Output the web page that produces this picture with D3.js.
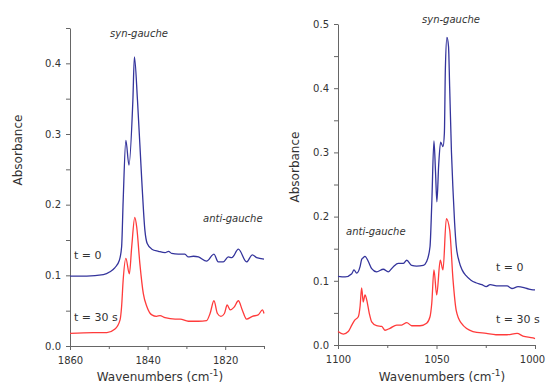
<!DOCTYPE html>
<html>
<head>
<meta charset="utf-8">
<script src="https://cdn.jsdelivr.net/npm/d3@7"></script>
<style>
  body { margin: 0; background: #fff; }
  svg { display: block; }
  .axis path, .axis line { stroke: #666; }
  .axis text { fill: #333; font-family: "DejaVu Sans", Verdana, sans-serif; font-size: 10px; }
  .title { fill: #333; font-family: "DejaVu Sans", Verdana, sans-serif; font-size: 12px; }
  .note { fill: #333; font-family: "DejaVu Sans", Verdana, sans-serif; font-size: 11px; }
  .band { fill: #333; font-family: "DejaVu Sans", Verdana, sans-serif; font-size: 10px; font-style: italic; }
</style>
</head>
<body>
<svg id="chart" width="546" height="385"></svg>
<script>
// left panel, 1860-1810 cm-1  [wavenumber, absorbance]
var leftT0 = [
  [1860,0.099],[1855.7,0.099],[1851.4,0.101],[1849.7,0.105],[1848.4,0.111],[1847.3,0.121],
  [1846.7,0.140],[1846.3,0.205],[1845.6,0.291],[1844.8,0.256],[1843.8,0.347],[1843.4,0.409],
  [1842.6,0.347],[1841.5,0.234],[1840.7,0.164],[1840.1,0.145],[1838.9,0.137],[1837.2,0.134],
  [1835.5,0.132],[1834.6,0.134],[1833.8,0.131],[1832.1,0.130],[1830.4,0.130],[1829.5,0.126],
  [1828.2,0.127],[1826.9,0.126],[1824.8,0.120],[1822.9,0.130],[1821.8,0.119],[1820.5,0.119],
  [1819.2,0.126],[1818.3,0.125],[1816.6,0.137],[1814.5,0.119],[1813.0,0.129],[1811.9,0.125],
  [1810,0.123]
];
var leftT30 = [
  [1860,0.018],[1854.0,0.019],[1850.5,0.019],[1848.4,0.024],[1847.1,0.037],[1846.7,0.056],
  [1846.3,0.093],[1845.6,0.124],[1844.7,0.102],[1844.1,0.140],[1843.3,0.182],[1842.8,0.168],
  [1842.0,0.117],[1841.1,0.074],[1840.2,0.056],[1838.9,0.044],[1837.7,0.042],[1836.8,0.043],
  [1835.5,0.040],[1832.9,0.038],[1831.6,0.038],[1829.5,0.035],[1826.9,0.035],[1824.8,0.036],
  [1823.9,0.046],[1822.9,0.064],[1822.0,0.046],[1821.1,0.042],[1820.2,0.046],[1819.5,0.058],
  [1818.7,0.051],[1817.7,0.055],[1816.6,0.064],[1815.6,0.051],[1814.5,0.038],[1813.0,0.042],
  [1811.5,0.044],[1810.4,0.051],[1810,0.046]
];
// right panel, 1100-1000 cm-1
var rightT0 = [
  [1100,0.107],[1096.4,0.106],[1093.0,0.111],[1091.9,0.117],[1090.5,0.112],[1088.8,0.122],
  [1088.0,0.133],[1087.2,0.136],[1086.3,0.138],[1084.6,0.130],[1082.9,0.119],[1080.4,0.114],
  [1077.0,0.118],[1074.5,0.114],[1071.9,0.122],[1069.4,0.127],[1066.9,0.127],[1065.1,0.132],
  [1062.6,0.124],[1060.1,0.123],[1056.7,0.124],[1055.0,0.130],[1053.3,0.153],[1052.4,0.220],
  [1051.3,0.318],[1050.5,0.270],[1049.8,0.223],[1048.9,0.280],[1047.9,0.316],[1046.7,0.309],
  [1046.0,0.330],[1045.5,0.430],[1044.7,0.479],[1043.9,0.465],[1043.3,0.400],[1042.4,0.300],
  [1041.6,0.240],[1040.8,0.190],[1040.0,0.155],[1038.5,0.130],[1037.0,0.117],[1035.0,0.108],
  [1032.5,0.101],[1030.0,0.097],[1027.0,0.094],[1024.7,0.091],[1022.8,0.094],[1018.8,0.092],
  [1014.2,0.092],[1011.7,0.088],[1008.6,0.091],[1004.1,0.088],[1001.0,0.086],[1000,0.086]
];
var rightT30 = [
  [1100,0.021],[1097.3,0.017],[1094.8,0.021],[1093.0,0.031],[1091.4,0.039],[1089.7,0.044],
  [1088.8,0.060],[1088.0,0.089],[1087.2,0.067],[1086.3,0.078],[1085.4,0.070],[1084.1,0.049],
  [1082.9,0.036],[1080.4,0.030],[1077.8,0.029],[1076.1,0.023],[1073.6,0.026],[1070.2,0.031],
  [1067.7,0.031],[1065.1,0.035],[1062.6,0.030],[1058.4,0.030],[1055.0,0.034],[1053.3,0.044],
  [1052.4,0.065],[1051.3,0.117],[1049.9,0.078],[1048.1,0.132],[1046.7,0.117],[1045.0,0.197],
  [1043.3,0.179],[1041.6,0.101],[1040.0,0.054],[1037.4,0.034],[1031.5,0.021],[1024.7,0.018],
  [1019.8,0.016],[1014.2,0.016],[1009.1,0.018],[1006.1,0.014],[1001.0,0.011],[1000,0.010]
];
var leftXTicks = [1860, 1850, 1840, 1830, 1820, 1810];
var leftXLabels = [1860, 1840, 1820];
var rightXTicks = [1100, 1075, 1050, 1025, 1000];
var rightXLabels = [1100, 1050, 1000];
var leftYTicks = [0, 0.05, 0.1, 0.15, 0.2, 0.25, 0.3, 0.35, 0.4, 0.45];
var rightYTicks = [0, 0.05, 0.1, 0.15, 0.2, 0.25, 0.3, 0.35, 0.4, 0.45, 0.5];
var yLabels = [0, 0.1, 0.2, 0.3, 0.4, 0.5];

var svg = d3.select("#chart");
var blue = "#34349c", red = "#ff3b3b";

function drawPanel(p) {
  var x = d3.scaleLinear().domain(p.xDomain).range([p.left, p.right]);
  var y = d3.scaleLinear().domain(p.yDomain).range([p.bottom, p.top]);
  var g = svg.append("g");

  var xAxis = g.append("g").attr("class", "axis")
    .attr("transform", "translate(0," + p.bottom + ")")
    .call(d3.axisBottom(x).tickValues(p.xTicks).tickSizeOuter(0)
      .tickFormat(function (d) { return p.xLabels.indexOf(d) >= 0 ? d : ""; }));
  xAxis.selectAll(".tick line").attr("y2", function (d) { return p.xLabels.indexOf(d) >= 0 ? 4 : 3; });
  xAxis.selectAll(".tick text").attr("dy", "0.9em")
    .attr("dx", function (d, i, nodes) { return (i === nodes.length - 1 && x(d) > 530) ? -3 : 0; });

  var yAxis = g.append("g").attr("class", "axis")
    .attr("transform", "translate(" + p.left + ",0)")
    .call(d3.axisLeft(y).tickValues(p.yTicks).tickSizeOuter(0)
      .tickFormat(function (d) {
        return yLabels.some(function (v) { return Math.abs(v - d) < 1e-9; }) ? d3.format(".1f")(d) : "";
      }));
  yAxis.selectAll(".tick line").attr("x2", -4);

  var line = d3.line()
    .x(function (d) { return x(d[0]); })
    .y(function (d) { return y(d[1]); })
    .curve(d3.curveMonotoneX);

  g.append("path").datum(p.t0).attr("fill", "none").attr("stroke", blue)
    .attr("stroke-width", 1.3).attr("d", line);
  g.append("path").datum(p.t30).attr("fill", "none").attr("stroke", red)
    .attr("stroke-width", 1.3).attr("d", line);

  g.append("text").attr("class", "title")
    .attr("transform", "translate(" + p.yTitleX + "," + p.yTitleY + ")rotate(-90)")
    .attr("text-anchor", "middle").text("Absorbance");

  var xt = g.append("text").attr("class", "title")
    .attr("x", p.xTitleX).attr("y", 381).attr("text-anchor", "middle");
  xt.append("tspan").text("Wavenumbers (cm");
  xt.append("tspan").attr("dy", -5).attr("font-size", "9px").text("-1");
  xt.append("tspan").attr("dy", 5).text(")");

  p.notes.forEach(function (n) {
    g.append("text").attr("class", n.cls).attr("x", n.x).attr("y", n.y).text(n.text);
  });
}

drawPanel({
  xDomain: [1860, 1810], yDomain: [0, 0.45],
  left: 70, right: 264, top: 28, bottom: 346,
  xTicks: leftXTicks, xLabels: leftXLabels, yTicks: leftYTicks,
  t0: leftT0, t30: leftT30,
  yTitleX: 22, yTitleY: 150, xTitleX: 160,
  notes: [
    { cls: "band", x: 110, y: 37, text: "syn-gauche" },
    { cls: "band", x: 203, y: 222, text: "anti-gauche" },
    { cls: "note", x: 74, y: 259, text: "t = 0" },
    { cls: "note", x: 74, y: 321, text: "t = 30 s" }
  ]
});

drawPanel({
  xDomain: [1100, 1000], yDomain: [0, 0.5],
  left: 338, right: 535, top: 24, bottom: 345,
  xTicks: rightXTicks, xLabels: rightXLabels, yTicks: rightYTicks,
  t0: rightT0, t30: rightT30,
  yTitleX: 299, yTitleY: 167, xTitleX: 442,
  notes: [
    { cls: "band", x: 422, y: 23, text: "syn-gauche" },
    { cls: "band", x: 346, y: 235, text: "anti-gauche" },
    { cls: "note", x: 496, y: 271, text: "t = 0" },
    { cls: "note", x: 496, y: 323, text: "t = 30 s" }
  ]
});
</script>
</body>
</html>
